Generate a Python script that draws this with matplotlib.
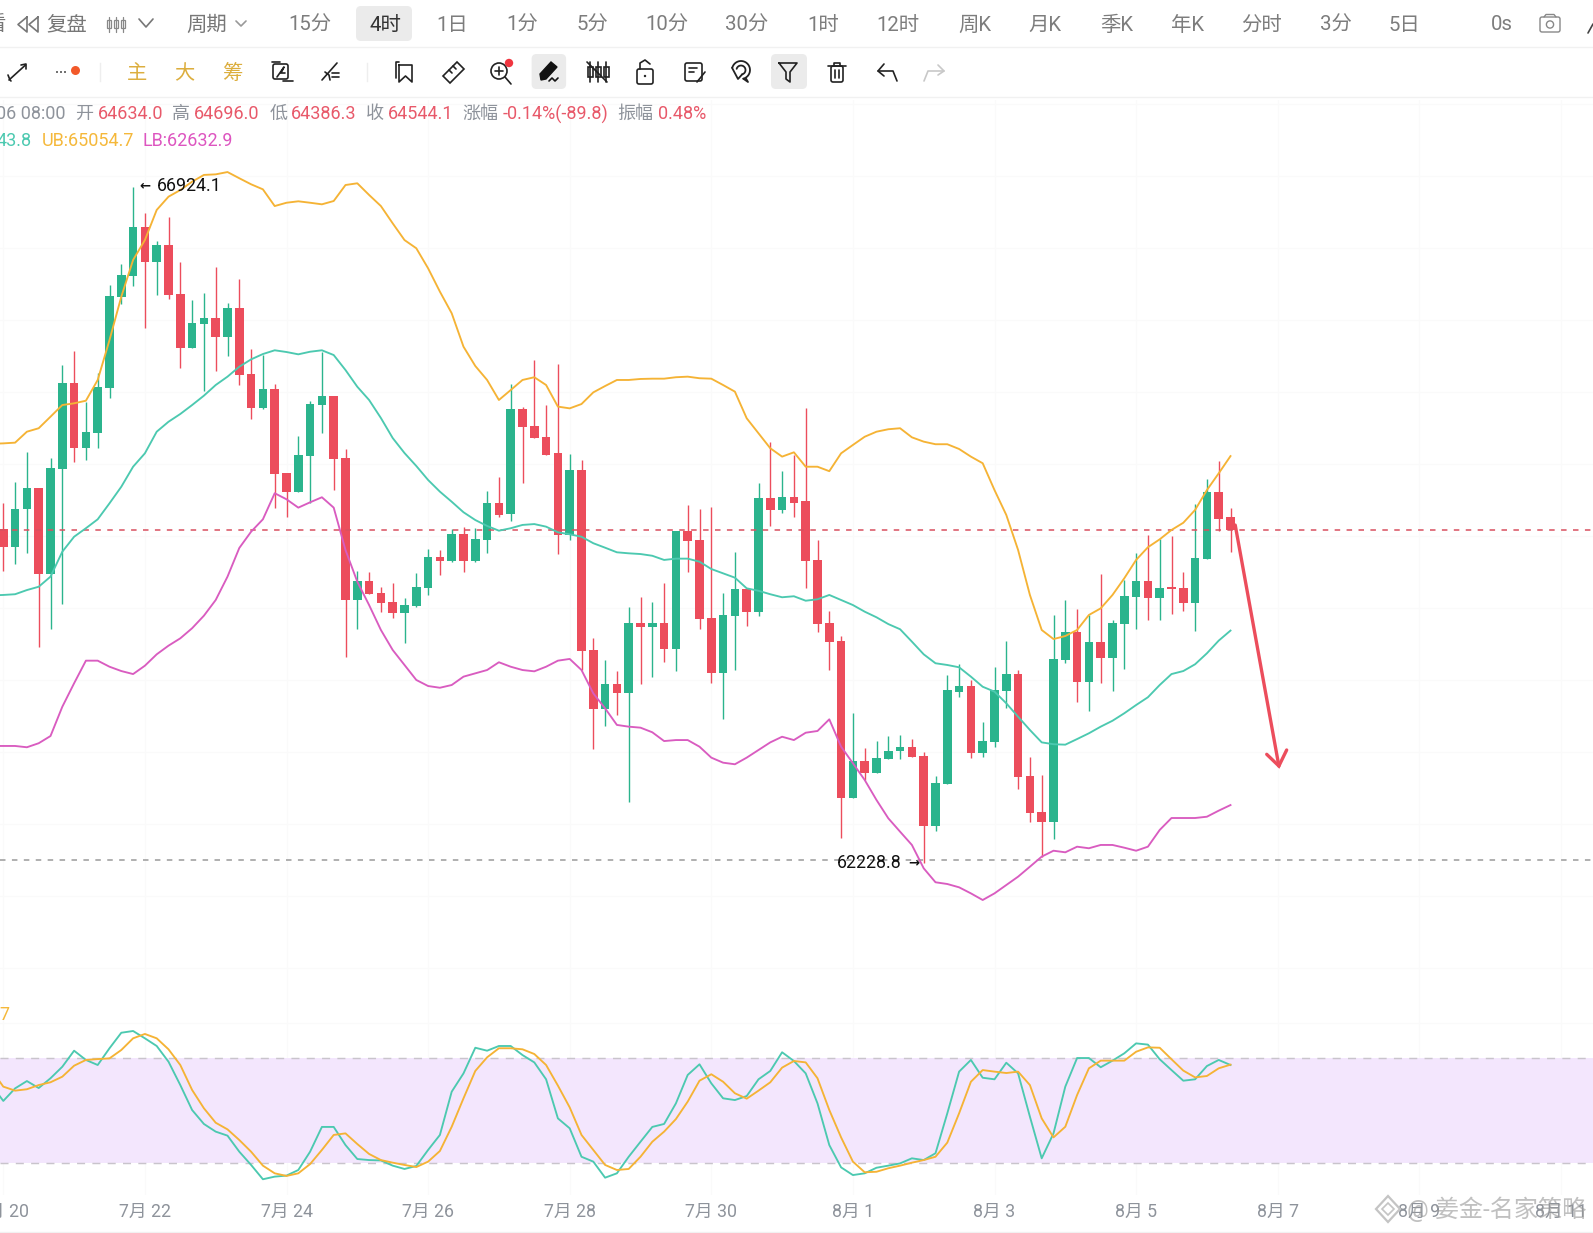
import matplotlib
matplotlib.use("Agg")
import matplotlib.pyplot as plt
from matplotlib.patches import Circle, FancyBboxPatch, Polygon, Rectangle
import numpy as np

plt.rcParams['font.family'] = ['Roboto', 'Noto Sans CJK SC', 'DejaVu Sans']

# 4h candles
opens = [64547, 64422, 64685, 64835, 64234, 64965, 65564, 65109, 65213, 65525, 66161, 66307, 66647, 66402, 66522,
         66180, 65807, 65974, 66011, 65881, 66085, 65626, 65388, 65522, 64939, 64805, 65055, 65409, 65472, 65044,
         64056, 64188, 64107, 64042, 63964, 64016, 64139, 64356, 64327, 64514, 64327, 64472, 64731, 64653, 65380,
         65264, 65189, 65074, 64507, 64960, 63711, 63300, 63471, 63413, 63898, 63871, 63898, 63714, 64533, 64472,
         63929, 63547, 63945, 64130, 63975, 64764, 64683, 64773, 64741, 64334, 63898, 63774, 62684, 62941, 62853,
         62955, 63006, 63034, 62973, 62488, 62779, 63420, 63461, 62996, 63070, 63425, 63542, 62835, 62585, 62517,
         63640, 63834, 63485, 63762, 63651, 63889, 64079, 64190, 64068, 64148, 64139, 64037, 64339, 64805, 64634.0]
highs = [64731, 64873, 65081, 64835, 65044, 65687, 65786, 65432, 65629, 66240, 66388, 66924.1, 66740, 66548, 66712,
         66400, 66138, 66189, 66365, 66115, 66284, 65796, 65756, 65553, 64939, 65194, 65435, 65779, 65472, 65106,
         64259, 64252, 64148, 64176, 64073, 64241, 64412, 64403, 64549, 64565, 64554, 64815, 64908, 65553, 65398,
         65722, 65411, 65692, 65067, 65028, 63790, 63640, 63565, 64010, 64079, 64044, 64172, 64537, 64715, 64687,
         64699, 64103, 64389, 64130, 64866, 65150, 64953, 65062, 65386, 64472, 63980, 63803, 63270, 63031, 63079,
         63112, 63119, 63089, 62999, 62837, 63535, 63612, 63501, 63211, 63589, 63774, 63570, 62969, 62842, 63952,
         64056, 63992, 63952, 64236, 63917, 64195, 64384, 64507, 64477, 64500, 64252, 64722, 64894, 65021, 64696.0]
lows = [64259, 64304, 64380, 63732, 63855, 64028, 65012, 65028, 65113, 65456, 66108, 66235, 65942, 66173, 66145,
        65668, 65807, 65506, 65647, 65751, 65548, 65314, 65382, 64697, 64634, 64805, 64731, 65213, 64819, 63663,
        63853, 64098, 63975, 63933, 63758, 64007, 64091, 64230, 64318, 64252, 64322, 64380, 64634, 64606, 64870,
        65180, 65062, 64373, 64472, 63570, 63020, 63182, 63258, 62656, 63473, 63524, 63628, 63565, 64248, 63855,
        63482, 63230, 63570, 63876, 63947, 64570, 64658, 64634, 64137, 63832, 63570, 62406, 62680, 62807, 62853,
        62955, 62950, 62964, 62228.8, 62453, 62779, 63385, 62957, 62969, 63034, 63304, 62742, 62513, 62275, 62395,
        63621, 63350, 63288, 63478, 63425, 63579, 63853, 63917, 63917, 63959, 63982, 63843, 64339, 64537, 64386.3]
closes = [64422, 64687, 64835, 64234, 64970, 65564, 65109, 65220, 65532, 66168, 66312, 66647, 66402, 66522, 66171,
          65805, 65980, 66011, 65881, 66085, 65620, 65388, 65522, 64930, 64805, 65064, 65418, 65472, 65035, 64056,
          64188, 64098, 64037, 63964, 64021, 64148, 64356, 64329, 64514, 64327, 64481, 64731, 64648, 65380, 65255,
          65180, 65064, 64507, 64960, 63704, 63300, 63471, 63413, 63898, 63871, 63898, 63714, 64533, 64463, 63924,
          63547, 63950, 64130, 63975, 64764, 64681, 64773, 64731, 64329, 63892, 63765, 62684, 62941, 62853, 62959,
          63010, 63034, 62964, 62488, 62784, 63429, 63461, 62996, 63075, 63429, 63542, 62830, 62580, 62517, 63649,
          63834, 63485, 63762, 63651, 63898, 64086, 64190, 64068, 64139, 64130, 64037, 64347, 64805, 64620, 64544.1]

# indicator lines start one candle earlier, off the left edge
upper_band = [65140, 65143, 65148, 65224, 65248, 65328, 65409, 65421, 65439, 65583, 65860, 66161, 66416, 66554, 66763, 66855,
              66901, 66959, 67006, 67010, 67026, 66983, 66941, 66906, 66790, 66813, 66823, 66813, 66802, 66825, 66936,
              66948, 66867, 66790, 66670, 66554, 66497, 66358, 66196, 66046, 65814, 65680, 65583, 65444, 65513, 65583,
              65602, 65548, 65398, 65386, 65416, 65497, 65541, 65583, 65583, 65590, 65592, 65592, 65602, 65606, 65595,
              65592, 65548, 65502, 65317, 65213, 65109, 65051, 65081, 64981, 64981, 64950, 65074, 65132, 65189, 65224,
              65241, 65248, 65185, 65155, 65137, 65137, 65104, 65051, 65005, 64819, 64646, 64403, 64091, 63848, 63785,
              63806, 63848, 63952, 63998, 64091, 64207, 64334, 64422, 64477, 64542, 64592, 64681, 64819, 64935, 65054.7]
mid_band = [64088, 64091, 64096, 64125, 64148, 64218, 64391, 64495, 64554, 64616, 64727, 64842, 64981, 65074, 65224, 65293,
            65347, 65409, 65474, 65548, 65606, 65675, 65726, 65763, 65789, 65777, 65761, 65779, 65789, 65756, 65652,
            65536, 65444, 65319, 65180, 65076, 64986, 64889, 64808, 64738, 64665, 64611, 64570, 64537, 64554, 64577,
            64583, 64565, 64526, 64512, 64495, 64450, 64419, 64387, 64380, 64375, 64363, 64334, 64343, 64343, 64322,
            64271, 64241, 64211, 64137, 64120, 64096, 64075, 64082, 64051, 64061, 64091, 64056, 64021, 63975, 63936,
            63889, 63853, 63767, 63679, 63617, 63605, 63589, 63524, 63454, 63420, 63339, 63246, 63154, 63068, 63055,
            63052, 63091, 63131, 63177, 63218, 63270, 63327, 63381, 63466, 63542, 63563, 63610, 63686, 63774, 63843.8]
lower_band = [63043, 63043, 63043, 63034, 63062, 63112, 63315, 63478, 63635, 63635, 63593, 63563, 63542, 63600, 63679, 63739,
              63790, 63860, 63947, 64056, 64218, 64417, 64530, 64616, 64797, 64755, 64697, 64734, 64769, 64697, 64403,
              64183, 64021, 63848, 63709, 63605, 63501, 63459, 63447, 63466, 63524, 63547, 63570, 63624, 63593, 63570,
              63561, 63593, 63635, 63647, 63570, 63408, 63304, 63189, 63177, 63170, 63138, 63077, 63084, 63084, 63038,
              62962, 62927, 62916, 62962, 63015, 63068, 63107, 63084, 63135, 63147, 63228, 63038, 62923, 62807, 62668,
              62541, 62448, 62356, 62194, 62097, 62085, 62062, 62020, 61974, 62020, 62078, 62136, 62205, 62275, 62316,
              62305, 62344, 62333, 62356, 62356, 62337, 62316, 62344, 62460, 62543, 62543, 62543, 62552, 62594, 62632.9]

# stochastic pane
stoch_k = [64.7, 55.6, 62.8, 67.0, 63.0, 68.6, 75.2, 84.4, 79.1, 76.2, 85.8, 94.7, 95.7, 91.5, 87.1, 78.1,
           64.7, 50.4, 42.4, 38.0, 35.7, 26.5, 18.9, 10.7, 12.2, 12.8, 16.0, 26.5, 40.7, 40.7, 30.3,
           22.3, 21.7, 21.5, 18.5, 16.6, 18.3, 27.5, 36.1, 60.9, 71.4, 86.1, 84.4, 87.1, 87.1, 81.9,
           77.7, 68.0, 45.6, 39.9, 23.6, 20.8, 11.6, 14.1, 23.6, 32.2, 40.7, 42.4, 54.2, 70.5, 76.6,
           65.7, 57.1, 56.1, 58.4, 68.0, 72.8, 83.5, 78.5, 71.4, 54.2, 30.3, 17.5, 13.1, 14.1, 17.3,
           18.5, 19.8, 22.7, 21.7, 25.6, 48.5, 72.4, 79.1, 68.9, 68.0, 77.5, 71.4, 46.6, 22.7, 37.0,
           63.8, 80.2, 80.2, 74.9, 78.7, 82.9, 88.6, 87.9, 79.5, 73.3, 67.2, 68.0, 75.6, 79.1, 76.2]
stoch_d = [73.3, 63.8, 61.5, 62.3, 64.7, 66.3, 69.5, 75.8, 79.1, 79.6, 80.0, 84.8, 91.5, 94.0, 91.5, 85.2,
           76.2, 61.9, 51.4, 43.1, 39.3, 33.2, 26.5, 18.5, 14.1, 12.6, 14.1, 19.4, 27.5, 36.1, 37.0,
           30.9, 25.2, 21.7, 20.2, 18.9, 17.7, 20.8, 26.9, 40.8, 57.1, 72.8, 80.6, 85.8, 85.8, 85.2,
           82.5, 76.2, 64.4, 51.9, 36.1, 27.5, 18.9, 16.0, 16.6, 23.6, 32.2, 38.0, 45.2, 55.2, 67.2,
           70.9, 66.6, 60.0, 56.9, 61.5, 66.3, 74.7, 78.5, 77.7, 68.6, 50.4, 34.7, 20.8, 14.7, 15.0,
           17.0, 18.5, 20.2, 21.7, 23.6, 31.7, 48.5, 66.6, 73.3, 72.4, 71.6, 72.4, 64.7, 45.6, 34.7,
           40.8, 59.0, 74.3, 78.7, 78.7, 78.7, 83.8, 86.3, 86.1, 79.5, 73.0, 69.1, 69.9, 74.3, 76.4]

date_pos = [0, 12, 24, 36, 48, 60, 72, 84, 96, 108, 120, 132]
date_labels = ["7月 20", "7月 22", "7月 24", "7月 26", "7月 28", "7月 30",
               "8月 1", "8月 3", "8月 5", "8月 7", "8月 9", "8月 11"]

last_price = 64544.1
low_guide = 62250
stoch_levels = [20, 80]
# hand drawn arrow on the chart: (candle, price)
drawn_x = [104.4, 108.1]
drawn_y = [64576, 62904]
head_x = [107.07, 108.1, 108.76]
head_y = [62985, 62904, 63015]

periods_left = [("复盘", 67), ("周期", 206.6)]
periods = [("15分", 310), ("4时", 385), ("1日", 452.6), ("1分", 522), ("5分", 592), ("10分", 667), ("30分", 747),
           ("1时", 822.8), ("12时", 897.6), ("周K", 974.5), ("月K", 1045), ("季K", 1116.6), ("年K", 1187.5),
           ("分时", 1261.8), ("3分", 1335.7), ("5日", 1404.5), ("0s", 1501.6)]

W, H = 1593, 1233
RED = '#ec4d5c'
GREEN = '#2bb48d'
ORANGE = '#f5b335'
TEAL = '#4cc9b0'
PINK = '#d95cc0'
GRAY = '#8e939b'
GRID = '#fafafa'

fig = plt.figure(figsize=(W / 100, H / 100), dpi=100, facecolor='white')

xlim = (-3.3 / 11.8, (W - 3.3) / 11.8)
x = np.arange(len(closes))
x_lines = np.arange(-1, len(closes))

ax = fig.add_axes([0, 233 / H, 1, 900 / H])
ax.set_xlim(xlim)
ax.set_ylim(61280, 67526)
ax.set_xticks(date_pos)
ax.set_yticks(range(61500, 67501, 500))
ax.grid(True, color=GRID, lw=0.8)
ax.set_axisbelow(True)
ax.tick_params(length=0, labelbottom=False, labelleft=False)
for s in ax.spines.values():
    s.set_visible(False)

o = np.array(opens)
c = np.array(closes)
up = c >= o
colors = [GREEN if u else RED for u in up]
ax.vlines(x, lows, highs, colors=colors, lw=1.0, zorder=2)
ax.bar(x, np.abs(c - o), bottom=np.minimum(o, c), width=0.74, color=colors, zorder=3)

ax.axhline(last_price, color='#d9505f', lw=1.1, dashes=(3.6, 4.2), zorder=4)
ax.axhline(low_guide, color='#9a9a9a', lw=1.1, dashes=(3.6, 4.2), zorder=1)

ax.plot(x_lines, upper_band, color=ORANGE, lw=1.35, zorder=5)
ax.plot(x_lines, mid_band, color=TEAL, lw=1.35, zorder=5)
ax.plot(x_lines, lower_band, color=PINK, lw=1.35, zorder=5)

ax.plot(drawn_x, drawn_y, color=RED, lw=2.4, zorder=6, solid_capstyle='round')
ax.plot(head_x, head_y, color=RED, lw=2.4, zorder=6, solid_capstyle='round', solid_joinstyle='miter')

ax.annotate("←", (11, 66924.1), xytext=(4.2, 0.5), textcoords='offset points',
            fontsize=9.5, color='#111111', va='center', family='DejaVu Sans', fontweight='bold', zorder=7)
ax.annotate("66924.1", (11, 66924.1), xytext=(17, 0.5), textcoords='offset points',
            fontsize=12.8, color='#111111', va='center', zorder=7)
ax.annotate("→", (78, 62228.8), xytext=(-3.2, 0), textcoords='offset points',
            fontsize=9.5, color='#111111', va='center', ha='right', family='DejaVu Sans', fontweight='bold', zorder=7)
ax.annotate("62228.8", (78, 62228.8), xytext=(-16, 0), textcoords='offset points',
            fontsize=12.8, color='#111111', va='center', ha='right', zorder=7)

ax2 = fig.add_axes([0, 38 / H, 1, 195 / H])
ax2.set_xlim(xlim)
ax2.set_ylim(1.67, 113.47)
ax2.axhspan(stoch_levels[0], stoch_levels[1], color='#f3e6fd', lw=0, zorder=0.7)
for lev in stoch_levels:
    ax2.axhline(lev, color='#c9c4cc', lw=1.05, dashes=(5.5, 5), zorder=1)
ax2.plot(x_lines, stoch_k, color=TEAL, lw=1.35, zorder=3)
ax2.plot(x_lines, stoch_d, color=ORANGE, lw=1.35, zorder=4)
ax2.set_xticks(date_pos)
ax2.set_xticklabels(date_labels, fontsize=12.8, color=GRAY)
ax2.set_yticks([100])
ax2.grid(True, color=GRID, lw=0.8)
ax2.set_axisbelow(True)
ax2.tick_params(length=0, pad=5.5, labelleft=False)
for s in ax2.spines.values():
    s.set_visible(False)

# toolbar and header live in a pixel overlay
ui = fig.add_axes([0, 0, 1, 1], facecolor='none')
ui.set_xlim(0, W)
ui.set_ylim(H, 0)
ui.axis('off')


def label(txt, px, py, color=GRAY, size=13, ha='center'):
    ui.text(px, py, txt, color=color, fontsize=size, ha=ha, va='center')


def stroke(xs, ys, color='#222222', lw=1.2):
    ui.plot(xs, ys, color=color, lw=lw, solid_capstyle='round', solid_joinstyle='round')


def box(px, py, w, h, color='#222222', lw=1.2, fill='none'):
    ui.add_patch(FancyBboxPatch((px, py), w, h, boxstyle='round,pad=0,rounding_size=2',
                                fc=fill, ec=color, lw=lw))


ui.plot([0, W], [46.7, 46.7], color='#f1f1f1', lw=1)
ui.plot([0, W], [97.3, 97.3], color='#f1f1f1', lw=1)
ui.plot([0, W], [1231.7, 1231.7], color='#f1f1f1', lw=1)

ui.add_patch(FancyBboxPatch((356, 6), 56, 35, boxstyle='round,pad=0,rounding_size=5', fc='#ebebeb', ec='none'))
ui.add_patch(FancyBboxPatch((531.6, 54), 34.5, 35, boxstyle='round,pad=0,rounding_size=5', fc='#ebebeb', ec='none'))
ui.add_patch(FancyBboxPatch((771, 54), 36, 35, boxstyle='round,pad=0,rounding_size=5', fc='#ebebeb', ec='none'))

label("看", -5, 25, '#777777', 14.7)
for txt, px in periods_left:
    label(txt, px, 25, '#777777', 14.7)
for txt, px in periods:
    label(txt, px, 25, '#333333' if txt == "4时" else '#7d7d7d', 14.7)

# first row icons
stroke([27, 18, 27, 27], [17, 24.5, 32, 17], '#777777')
stroke([38, 29, 38, 38], [17, 24.5, 32, 17], '#777777')
for bx in [109, 116, 123]:
    stroke([bx, bx], [17, 32], '#888888', 0.9)
    ui.add_patch(Rectangle((bx - 2, 20), 4, 8, fc='white', ec='#888888', lw=0.9))
stroke([139, 146, 153], [19, 27, 19], '#777777')
stroke([236, 241, 246], [21, 26, 21], '#999999')
box(1540, 17, 20, 15, '#888888', 1.0)
ui.add_patch(Circle((1550, 24.5), 3.6, fc='none', ec='#888888', lw=1.0))
stroke([1544, 1546, 1554, 1556], [17, 14.5, 14.5, 17], '#888888', 1.0)
stroke([1588, 1593], [33, 24], '#444444', 1.2)

# drawing tool row
stroke([9, 25.5], [80, 65])
stroke([8, 10, 11], [75, 80, 81])
stroke([21, 26, 26], [65, 64, 69])
for dx in [57, 61, 65]:
    ui.add_patch(Circle((dx, 72), 0.9, fc='#222222', ec='none'))
ui.add_patch(Circle((75.5, 70.5), 4.5, fc='#f2592a', ec='none'))
ui.plot([99.5, 99.5], [63, 81], color='#eeeeee', lw=1)
ui.plot([367, 367], [63, 81], color='#eeeeee', lw=1)
label("主", 136.7, 73.5, '#dcae3e', 14.6)
label("大", 184.7, 73.5, '#dcae3e', 14.6)
label("筹", 232.6, 73.5, '#dcae3e', 14.6)

box(273, 64, 15, 15)
stroke([272, 276, 280], [62, 62, 62])
stroke([283, 289, 293], [81, 81, 81])
stroke([277, 284, 281, 285], [77, 67, 73, 73])
stroke([322, 337], [80, 63])
stroke([325, 329, 330], [72, 75, 80])
stroke([332, 339], [73, 73])
stroke([332, 339], [77, 77])

stroke([396, 396, 399], [78, 62, 62])
stroke([399, 412, 412, 405.5, 399, 399], [65, 65, 82, 76, 82, 65])
ui.add_patch(Polygon([[443, 76], [457, 62], [464, 69], [450, 83]], closed=True, fc='none', ec='#222222', lw=1.2))
stroke([449, 452], [70, 73])
stroke([453, 456], [66, 69])
ui.add_patch(Circle((499, 71), 8, fc='none', ec='#222222', lw=1.2))
stroke([505, 511], [77, 84])
stroke([495, 503], [71, 71])
stroke([499, 499], [67, 75])
ui.add_patch(Circle((509, 63), 4.2, fc='#f0353f', ec='none'))
ui.add_patch(Polygon([[541, 80], [540, 74], [551, 62], [557, 67], [546, 79]], closed=True, fc='#111111', ec='#111111', lw=1))
stroke([549, 552, 555, 558], [81, 78, 81, 78], '#111111')

for bx in [590, 598, 606]:
    stroke([bx, bx], [62, 82])
    ui.add_patch(Rectangle((bx - 2.5, 67), 5, 10, fc='white', ec='#222222', lw=1.2))
stroke([587, 607], [62, 82])
box(637, 69, 16, 15)
stroke([640, 640, 645, 650], [69, 63, 60, 64])
ui.add_patch(Circle((645, 76), 1.2, fc='#222222', ec='none'))
box(685, 63, 17, 18)
stroke([689, 697], [68, 68])
stroke([689, 694], [72, 72])
stroke([697, 705], [82, 72])
# magnet
ang = np.radians(np.linspace(-75, 165, 25))
stroke(741 + 9 * np.cos(ang), 70 - 9 * np.sin(ang), lw=1.3)
stroke(741 + 4.5 * np.cos(ang), 70 - 4.5 * np.sin(ang), lw=1.3)
stroke([732, 738, 742.2], [67.7, 79, 74.3], lw=1.3)
stroke([743.3, 748, 745.9], [78.7, 82, 78.3], lw=1.3)
stroke([779, 797, 790, 790, 786, 786, 779], [63, 63, 72, 82, 79, 72, 63])
box(831, 66, 12, 16)
stroke([828, 846], [66, 66])
stroke([834, 834, 840, 840], [66, 63, 63, 66])
stroke([835, 835], [70, 78])
stroke([839, 839], [70, 78])
stroke([878, 893, 897], [71, 71, 81])
stroke([884, 878, 884], [64, 71, 76])
stroke([924, 928, 944], [81, 71, 71], '#c8c8c8')
stroke([938, 944, 938], [65, 71, 75], '#c8c8c8')

# OHLC readout
label("06 08:00", 65, 114, GRAY, ha='right')
readout = [("开", 84, "64634.0", 98), ("高", 181, "64696.0", 194), ("低", 278.6, "64386.3", 291), ("收", 375, "64544.1", 388)]
for name, nx, val, vx in readout:
    label(name, nx, 114, GRAY)
    label(val, vx, 114, '#e8596a', ha='left')
label("涨幅", 480, 114, GRAY)
label("-0.14%(-89.8)", 502.5, 114, '#e8596a', ha='left')
label("振幅", 635, 114, GRAY)
label("0.48%", 658, 114, '#e8596a', ha='left')

label("43.8", 31.6, 141, TEAL, ha='right')
label("UB:65054.7", 41.8, 141, '#f5b83a', ha='left')
label("LB:62632.9", 143, 141, '#dd55c0', ha='left')
label("7", 4, 1015, '#f5b83a', 13)

# watermark
ui.text(1407, 1209, "@ 姜金-名家策略", color='#9a9a9a', alpha=0.62, fontsize=17.4, ha='left', va='center', zorder=9)
ui.add_patch(Polygon([[1388, 1196], [1400, 1209], [1388, 1222], [1376, 1209]], closed=True,
                     fc='none', ec='#c4c4c4', lw=1.6, zorder=9))
ui.add_patch(Polygon([[1388, 1203], [1394, 1209], [1388, 1215], [1382, 1209]], closed=True,
                     fc='none', ec='#c4c4c4', lw=1.2, zorder=9))

fig.savefig("out.png", dpi=100)
